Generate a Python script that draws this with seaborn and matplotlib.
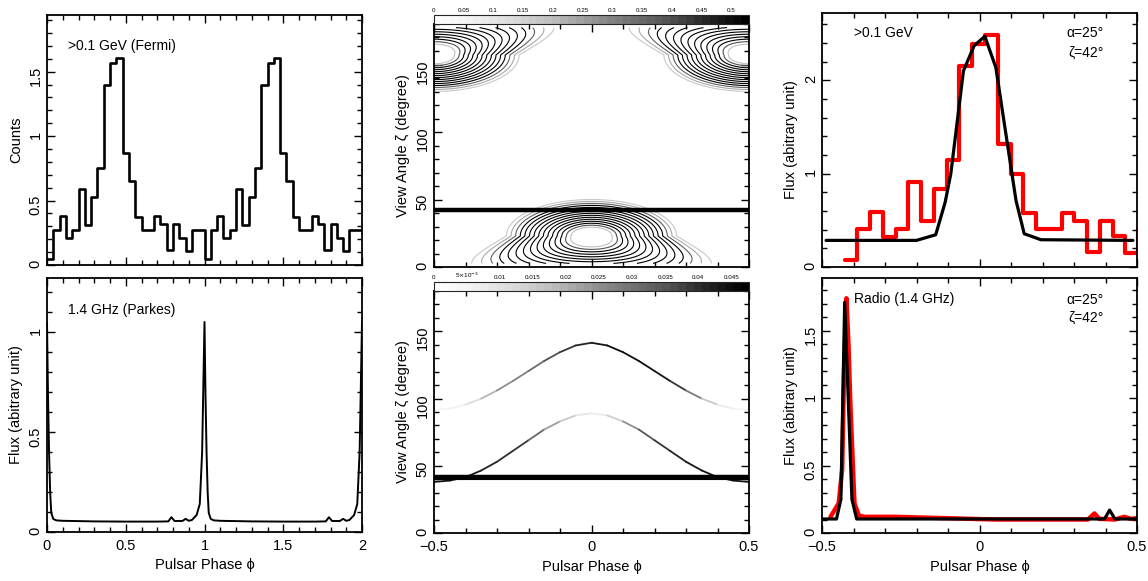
import numpy as np
import pandas as pd
import seaborn as sns
import matplotlib as mpl
import matplotlib.pyplot as plt
from matplotlib.collections import LineCollection
from matplotlib.ticker import MultipleLocator, FuncFormatter

sns.set_theme(style="ticks")
plt.rcParams['font.family'] = ['Liberation Sans', 'DejaVu Sans']

# ---- data ----
# Fermi >0.1 GeV light curve, one rotation, 25 bins
fermi_bin = 0.04
fermi_counts = [0.05, 0.27, 0.38, 0.21, 0.27, 0.59, 0.31, 0.53, 0.75, 1.40,
                1.57, 1.61, 0.87, 0.65, 0.37, 0.27, 0.27, 0.38, 0.32, 0.12,
                0.32, 0.21, 0.11, 0.27, 0.27]

# Parkes 1.4 GHz profile, one rotation
radio_phase = [0.0, 0.006, 0.013, 0.02, 0.027, 0.04, 0.06, 0.1, 0.3, 0.5,
               0.7, 0.77, 0.79, 0.81, 0.86, 0.88, 0.90, 0.92, 0.95, 0.97,
               0.985, 1.0]
radio_flux = [1.05, 0.70, 0.40, 0.20, 0.095, 0.065, 0.058, 0.056, 0.053, 0.052,
              0.052, 0.053, 0.074, 0.055, 0.055, 0.066, 0.056, 0.06, 0.085, 0.14,
              0.40, 1.05]

# gamma-ray fit panel (right top)
gam_start = -0.428
gam_bin = 0.0405
gam_flux = [0.08, 0.41, 0.59, 0.32, 0.41, 0.91, 0.49, 0.83, 1.15, 2.15,
            2.39, 2.48, 1.32, 1.00, 0.58, 0.41, 0.41, 0.58, 0.49, 0.16,
            0.49, 0.33, 0.15, 0.41]
gam_model_phase = [-0.487, -0.2, -0.139, -0.109, -0.091, -0.051, -0.017, 0.017,
                   0.052, 0.084, 0.116, 0.142, 0.195, 0.487]
gam_model_flux = [0.285, 0.285, 0.345, 0.694, 1.0, 2.10, 2.37, 2.47,
                  2.135, 1.42, 0.71, 0.356, 0.292, 0.285]

# radio fit panel (right bottom)
rad_obs_phase = [-0.473, -0.447, -0.436, -0.43, -0.4225, -0.416, -0.41, -0.397,
                 -0.383, -0.367, -0.27, -0.11, 0.05, 0.344, 0.365, 0.38,
                 0.43, 0.46, 0.48, 0.5]
rad_obs_flux = [0.12, 0.22, 0.47, 1.2, 1.74, 1.4, 0.96, 0.22,
                0.13, 0.12, 0.12, 0.11, 0.10, 0.10, 0.145, 0.105,
                0.10, 0.12, 0.105, 0.11]
rad_mod_phase = [-0.5, -0.454, -0.44, -0.428, -0.405, -0.39, 0.397, 0.413, 0.43, 0.5]
rad_mod_flux = [0.104, 0.104, 0.25, 1.71, 0.25, 0.104, 0.104, 0.17, 0.104, 0.104]

# gamma-ray emission map (middle top): blob centres / widths
blob_phase = [0.0, 0.5]
blob_zeta = [23.0, 157.0]
blob_skirt = [-1, 1]          # direction (in zeta) where the blob widens
blob_wphi = 0.12
blob_s_core = 12.0
blob_s_skirt = 15.0

# radio emission loci (middle bottom)
locus_phase = [-0.5, -0.45, -0.4, -0.35, -0.3, -0.25, -0.2, -0.15, -0.1, -0.05, 0.0,
               0.05, 0.1, 0.15, 0.2, 0.25, 0.3, 0.35, 0.4, 0.45, 0.5]
upper_zeta = [91.5, 92.5, 95.5, 100, 106, 113, 120.5, 128, 134.5, 139.5, 141.5,
              139.5, 134.5, 128, 120.5, 113, 106, 100, 95.5, 92.5, 91.5]
upper_grey = [0.08, 0.1, 0.15, 0.3, 0.5, 0.55, 0.6, 0.7, 0.8, 0.85, 0.9,
              0.95, 0.95, 0.95, 0.95, 0.9, 0.75, 0.45, 0.2, 0.1, 0.08]
lower_zeta = [38, 39, 41.5, 46.5, 53, 61, 69, 77, 83, 87.5, 89,
              87.5, 83, 77, 69, 61, 53, 46.5, 41.5, 39, 38]
lower_grey = [0.95, 0.95, 0.95, 0.9, 0.85, 0.85, 0.8, 0.55, 0.4, 0.25, 0.1,
              0.2, 0.4, 0.65, 0.8, 0.85, 0.9, 0.95, 0.95, 0.95, 0.95]
view_zeta = 42.0


def fmt(v, pos):
    return f'{v:g}'.replace('-', '\u2212')


def style(ax, xmaj, xmin, ymaj, ymin, xlabels=True):
    ax.xaxis.set_major_locator(MultipleLocator(xmaj))
    ax.xaxis.set_minor_locator(MultipleLocator(xmin))
    ax.yaxis.set_major_locator(MultipleLocator(ymaj))
    ax.yaxis.set_minor_locator(MultipleLocator(ymin))
    ax.xaxis.set_major_formatter(FuncFormatter(fmt))
    ax.yaxis.set_major_formatter(FuncFormatter(fmt))
    ax.tick_params(which='both', direction='in', top=True, right=True,
                   width=1.0, color='black', labelsize=10.5, labelcolor='black')
    ax.tick_params(which='major', length=6)
    ax.tick_params(which='minor', length=3.5)
    ax.tick_params(axis='y', labelrotation=90, pad=3)
    ax.tick_params(axis='x', pad=5)
    if not xlabels:
        ax.tick_params(axis='x', labelbottom=False)
    for s in ax.spines.values():
        s.set_linewidth(1.3)
        s.set_color('black')
        s.set_visible(True)


fig = plt.figure(figsize=(11.48, 5.81), dpi=100)
W, H = 1148, 581


def box(x0, y0, x1, y1):
    return [x0 / W, 1 - y1 / H, (x1 - x0) / W, (y1 - y0) / H]


ax_tl = fig.add_axes(box(47, 15, 362, 265))
ax_bl = fig.add_axes(box(47, 278, 362, 532))
ax_tm = fig.add_axes(box(434, 24, 749, 267))
ax_bm = fig.add_axes(box(434, 291, 749, 533))
ax_tr = fig.add_axes(box(822, 13, 1137, 267))
ax_br = fig.add_axes(box(822, 278, 1137, 533))
cax_t = fig.add_axes(box(434, 15, 749, 23.5))
cax_b = fig.add_axes(box(434, 282, 749, 291))

lab_kw = dict(fontsize=10.5, color='black')
txt_kw = dict(fontsize=10, color='black')

# ---- left top: Fermi counts, two rotations ----
counts2 = np.array(fermi_counts + fermi_counts)
edges = np.arange(len(counts2) + 1) * fermi_bin
df = pd.DataFrame({'phase': edges, 'counts': np.append(counts2, counts2[-1])})
sns.lineplot(data=df, x='phase', y='counts', ax=ax_tl, color='black', lw=1.9,
             drawstyle='steps-post', estimator=None)
ax_tl.set_xlim(0, 2)
ax_tl.set_ylim(0, 1.94)
style(ax_tl, 0.5, 0.1, 0.5, 0.1, xlabels=False)
ax_tl.set_xlabel('')
ax_tl.set_ylabel('Counts', **lab_kw)
ax_tl.text(0.067, 0.876, '>0.1 GeV (Fermi)', transform=ax_tl.transAxes,
           va='center', ha='left', **txt_kw)

# ---- left bottom: radio profile, two rotations ----
ph = np.array(radio_phase)
fl = np.array(radio_flux)
df = pd.DataFrame({'phase': np.concatenate([ph, ph[1:] + 1]),
                   'flux': np.concatenate([fl, fl[1:]])})
sns.lineplot(data=df, x='phase', y='flux', ax=ax_bl, color='black', lw=1.4,
             estimator=None)
ax_bl.set_xlim(0, 2)
ax_bl.set_ylim(0, 1.27)
style(ax_bl, 0.5, 0.1, 0.5, 0.1)
ax_bl.set_xlabel('Pulsar Phase \u03d5', **lab_kw)
ax_bl.set_ylabel('Flux (abitrary unit)', **lab_kw)
ax_bl.text(0.067, 0.874, '1.4 GHz (Parkes)', transform=ax_bl.transAxes,
           va='center', ha='left', **txt_kw)

# ---- middle top: gamma-ray map ----
gp = np.linspace(-0.5, 0.5, 501)
gz = np.linspace(0, 180, 541)
P, Z = np.meshgrid(gp, gz)
field = np.zeros_like(P)
for pc, zc, sk in zip(blob_phase, blob_zeta, blob_skirt):
    d = (P - pc + 0.5) % 1.0 - 0.5
    dz = (Z - zc) * sk
    up = np.clip(-dz, 0, None)
    down = np.clip(dz, 0, None)
    w = blob_wphi * (1 + 0.6 * down / 23.0 + 0.3 * (down / 23.0) ** 2)
    r2 = (d / w) ** 2 + (up / blob_s_core) ** 2 + (down / blob_s_skirt) ** 2
    field += 0.5 * np.exp(-0.5 * r2)
# faint strip right at the poles, as in the original map
field = np.where((Z < 2.5) | (Z > 177.5), np.nan, field)
levels = np.sort(0.5 * np.exp(-0.5 * np.linspace(0.54, 2.25, 15) ** 2))
lev_cols = ['#c8c8c8', '#a8a8a8', '#606060'] + ['black'] * 10 + ['#505050', '#c0c0c0']
ax_tm.contour(P, Z, field, levels=levels, colors=lev_cols, linewidths=0.8)
ax_tm.axhline(view_zeta, color='black', lw=3.2)
ax_tm.set_xlim(-0.5, 0.5)
ax_tm.set_ylim(0, 180)
style(ax_tm, 0.5, 0.1, 50, 10, xlabels=False)
ax_tm.set_ylabel('View Angle \u03b6 (degree)', **lab_kw)

# ---- middle bottom: radio loci ----
def graded_line(ax, x, y, g, lw):
    pts = np.column_stack([x, y])
    segs = np.stack([pts[:-1], pts[1:]], axis=1)
    g = np.asarray(g)
    lc = LineCollection(segs, cmap='Greys', norm=plt.Normalize(0, 1),
                        linewidths=lw, capstyle='round')
    lc.set_array((g[:-1] + g[1:]) / 2)
    ax.add_collection(lc)

graded_line(ax_bm, locus_phase, upper_zeta, upper_grey, 1.3)
graded_line(ax_bm, locus_phase, lower_zeta, lower_grey, 1.3)
ax_bm.axhline(view_zeta, color='black', lw=3.2)
ax_bm.axhline(40, color='black', lw=0.8)
ax_bm.set_xlim(-0.5, 0.5)
ax_bm.set_ylim(0, 180)
style(ax_bm, 0.5, 0.1, 50, 10)
ax_bm.set_xlabel('Pulsar Phase \u03d5', **lab_kw)
ax_bm.set_ylabel('View Angle \u03b6 (degree)', **lab_kw)

# ---- colour bars ----
def cbar(cax, vmax, step, minor, labfun):
    cmap = mpl.colormaps['Greys'].resampled(40)
    cb = mpl.colorbar.ColorbarBase(cax, cmap=cmap, norm=plt.Normalize(0, vmax),
                                   orientation='horizontal', ticklocation='top')
    cb.outline.set_linewidth(0.8)
    cb.set_ticks(np.arange(0, vmax, step))
    cb.ax.xaxis.set_minor_locator(MultipleLocator(minor))
    cb.ax.xaxis.set_major_formatter(FuncFormatter(labfun))
    cax.tick_params(which='both', direction='in', length=2, width=0.6,
                    labelsize=4.5, pad=1.5, color='black', labelcolor='black',
                    bottom=True, top=True)

cbar(cax_t, 0.53, 0.05, 0.0125, lambda v, p: f'{v:g}')
cbar(cax_b, 0.0477, 0.005, 0.00125,
     lambda v, p: r'5$\times$10$^{-3}$' if abs(v - 0.005) < 1e-6 else f'{v:g}')

# ---- right top: gamma-ray fit ----
g_edges = gam_start + np.arange(len(gam_flux) + 1) * gam_bin
df = pd.DataFrame({'phase': g_edges, 'flux': np.append(gam_flux, gam_flux[-1])})
sns.lineplot(data=df, x='phase', y='flux', ax=ax_tr, color='#ff0000', lw=3.0,
             drawstyle='steps-post', estimator=None)
sns.lineplot(x=gam_model_phase, y=gam_model_flux, ax=ax_tr, color='black', lw=2.3,
             estimator=None, sort=False)
ax_tr.set_xlim(-0.5, 0.5)
ax_tr.set_ylim(0, 2.72)
style(ax_tr, 0.5, 0.1, 1, 0.2, xlabels=False)
ax_tr.set_xlabel('')
ax_tr.set_ylabel('Flux (abitrary unit)', **lab_kw)
ax_tr.text(0.10, 0.92, '>0.1 GeV', transform=ax_tr.transAxes, va='center', **txt_kw)
ax_tr.text(0.895, 0.92, '\u03b1=25\u00b0', transform=ax_tr.transAxes, va='center',
           ha='right', **txt_kw)
ax_tr.text(0.895, 0.845, '\u03b6=42\u00b0', transform=ax_tr.transAxes, va='center',
           ha='right', **txt_kw)

# ---- right bottom: radio fit ----
sns.lineplot(x=rad_obs_phase, y=rad_obs_flux, ax=ax_br, color='#ff0000', lw=3.2,
             estimator=None, sort=False)
sns.lineplot(x=rad_mod_phase, y=rad_mod_flux, ax=ax_br, color='black', lw=2.3,
             estimator=None, sort=False)
ax_br.set_xlim(-0.5, 0.5)
ax_br.set_ylim(0, 1.89)
style(ax_br, 0.5, 0.1, 0.5, 0.1)
ax_br.set_xlabel('Pulsar Phase \u03d5', **lab_kw)
ax_br.set_ylabel('Flux (abitrary unit)', **lab_kw)
ax_br.text(0.10, 0.918, 'Radio (1.4 GHz)', transform=ax_br.transAxes, va='center', **txt_kw)
ax_br.text(0.895, 0.914, '\u03b1=25\u00b0', transform=ax_br.transAxes, va='center',
           ha='right', **txt_kw)
ax_br.text(0.895, 0.843, '\u03b6=42\u00b0', transform=ax_br.transAxes, va='center',
           ha='right', **txt_kw)

fig.savefig('out.png', dpi=100, facecolor='white')
